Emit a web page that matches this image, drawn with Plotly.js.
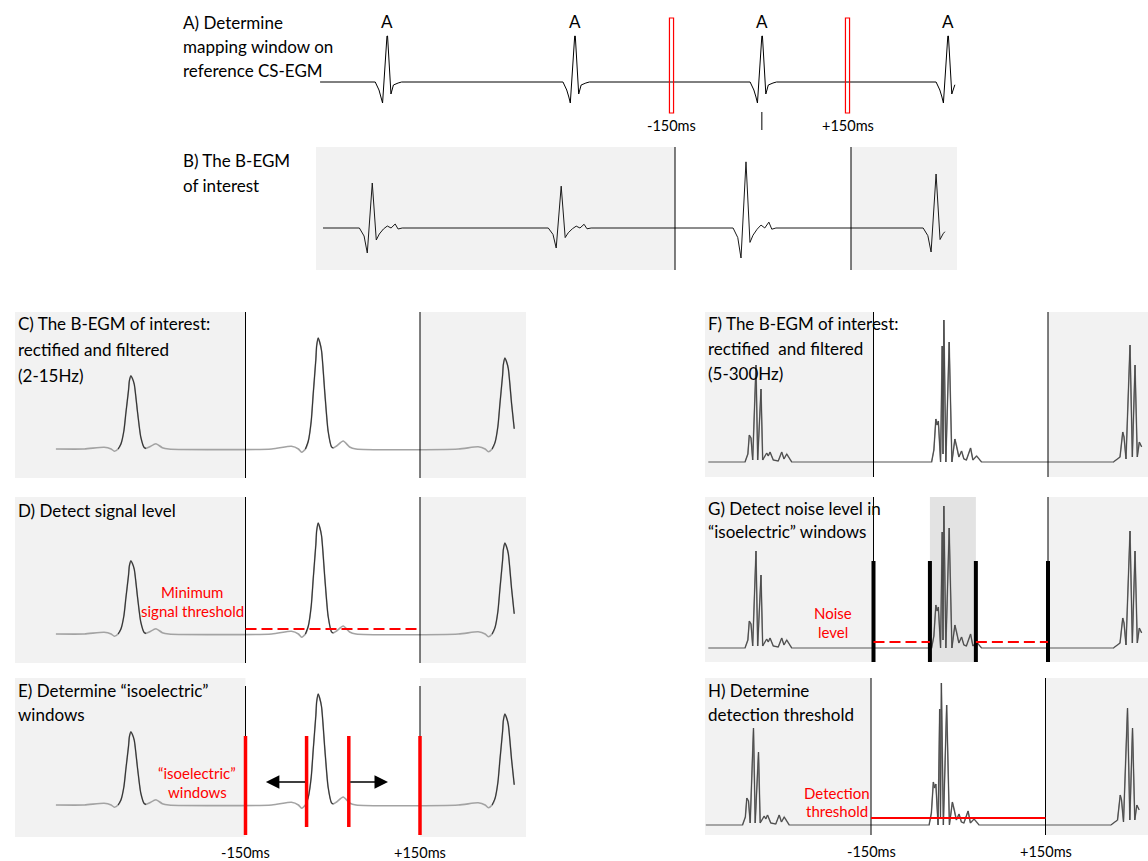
<!DOCTYPE html>
<html><head><meta charset="utf-8">
<script src="https://cdn.plot.ly/plotly-3.0.1.min.js"></script>
<style>html,body{margin:0;padding:0;background:#fff}#chart{width:1148px;height:861px}</style>
</head><body><div id="chart"></div>
<script>
// ================= DATA (time in ms relative to mapping-window centre, amplitude in a.u.) =================
const windowMs = [-150, 150];
const windowLabels = ['-150ms', '+150ms'];

// A) reference CS-EGM
const beatTimesA = [-635, -315, 4, 321];
const beatLabelsA = ['A', 'A', 'A', 'A'];
const spanA = [-749, 333];
const tmplA_t = [-20, -13.6, -10, -7.5, 0, 1, 6.8, 9, 11, 19, 25];
const tmplA_y = [0, -8, -15, -21, 46, 46, -12, -8, -3, -1, 0];

// B) bipolar EGM of interest
const beatTimesB = [-666, -344, -29, 295];
const beatPosB = [1.0, 0.93, 1.47, 1.2];
const beatNegB = [1.0, 0.8, 1.2, 0.96];
const spanB = [-750, 310];
const tmplB_t = [-22, -14, -8.5, 0, 6.8, 12, 19, 25.6, 32, 39, 44, 51];
const tmplB_y = [0, -8, -25, 45, -12, -6, -1, 2, 0, 4, -1, 0];

// C/D/E) rectified and filtered 2-15Hz
const beatTimesC = [-347, -25, 296];
const beatScaleC = [0.66, 1.0, 0.82];
const spanC = [-476, 312];
const tmplC_t = [-80, -46, -34, -28.5, -22, -17, -12, -8.6, -4, -2.7, 0, 2.5, 5.8, 11.5, 17, 23, 26, 31.5, 43, 54, 65];
const tmplC_y = [0, 2.7, 0, -3.3, 0, 8, 28, 55, 90, 103, 111, 107, 98, 55, 18, 2, 1, 3, 8, 2, 0];

// F/G/H) rectified and filtered 5-300Hz (one shape per beat)
const beatTimesF = [-352, -29, 291];
const spanF = [-434, 311];
const tmplF1_t = [-18.9, -14, -11.5, -8.6, -5.7, 0, 2.9, 8.6, 11.5, 18.4, 21.1, 24.1, 29.7, 38.3, 44.2, 48.1, 52.8, 61.4];
const tmplF1_y = [0, 8, 27, 24, 2, 97, 2, 73, 2, 9, 6, 10, 2, 1, 10, 3, 8, 0];
const tmplF2_t = [-21.1, -17.2, -13.8, -11.7, -9.5, -5.7, -2.9, -1.5, 0, 3.4, 9.1, 13.8, 18.9, 22.3, 25.8, 30.4, 34.4, 38.7, 45.9, 49.9, 56.2, 64.8];
const tmplF2_y = [0, 12, 43, 37, 41, 0, 116, 8, 142, 0, 120, 0, 23, 15, 5, 11, 3, 2, 14, 2, 6, 0];
const tmplF3_t = [-28.7, -17.2, -12.5, -10.3, -6.9, 0, 4.0, 8.6, 12.5, 16.0, 20.1];
const tmplF3_y = [0, 5, 30, 25, 3, 117, 5, 97, 5, 20, 15];

// markers
const isoInnerE = [-45, 27.6];
const isoInnerG = [-53, 26];
const minSignalThreshold = 5;
const noiseLevel = 6;
const detectionThreshold = 7;

// ================= BUILD =================
const W = 1148, H = 861;

function buildSignal(span, times, tList, yList, pos, neg) {
  const xs = [span[0]], ys = [0]; let done = false;
  for (let i = 0; i < times.length && !done; i++) {
    const tt = tList[i], ty = yList[i];
    for (let k = 0; k < tt.length; k++) {
      const t = times[i] + tt[k];
      const v = ty[k] * (ty[k] >= 0 ? pos[i] : neg[i]);
      if (t <= span[0]) continue;
      if (t >= span[1]) {
        const px = xs[xs.length - 1], py = ys[ys.length - 1];
        const f = (span[1] - px) / (t - px);
        xs.push(span[1]); ys.push(py + (v - py) * f); done = true; break;
      }
      xs.push(t); ys.push(v);
    }
  }
  if (!done) { xs.push(span[1]); ys.push(0); }
  return {x: xs, y: ys};
}
function beatSegments(sig, times, w0, w1) {
  const xs = [], ys = [];
  times.forEach(tb => {
    for (let k = 0; k < sig.x.length; k++) {
      if (sig.x[k] >= tb + w0 && sig.x[k] <= tb + w1) { xs.push(sig.x[k]); ys.push(sig.y[k]); }
    }
    xs.push(null); ys.push(null);
  });
  return {x: xs, y: ys};
}
const rep = (v, n) => Array(n).fill(v);

const sigA = buildSignal(spanA, beatTimesA, rep(tmplA_t, 4), rep(tmplA_y, 4), rep(1, 4), rep(1, 4));
const sigB = buildSignal(spanB, beatTimesB, rep(tmplB_t, 4), rep(tmplB_y, 4), beatPosB, beatNegB);
const sigC = buildSignal(spanC, beatTimesC, rep(tmplC_t, 3), rep(tmplC_y, 3), beatScaleC, beatScaleC);
const sigF = buildSignal(spanF, beatTimesF, [tmplF1_t, tmplF2_t, tmplF3_t], [tmplF1_y, tmplF2_y, tmplF3_y], rep(1, 3), rep(1, 3));
const segC = beatSegments(sigC, beatTimesC, -22, 26);
const segF = beatSegments(sigF, beatTimesF, -30, 66);

const layout = {
  width: W, height: H, margin: {l: 0, r: 0, t: 0, b: 0},
  paper_bgcolor: '#ffffff', plot_bgcolor: 'rgba(0,0,0,0)', showlegend: false,
  shapes: [], annotations: [],
  font: {family: 'Lato, "Open Sans", sans-serif', color: '#000'}
};

// panel geometry (pixels): box = [x0,x1,y0,y1], win = pixel x of -150/+150, base = pixel y of baseline
const panels = {
  A: {n: '',  box: [300, 970, 0, 140],   win: [671.5, 847.5], base: 82,  bg: false},
  B: {n: '2', box: [316, 957, 147, 270], win: [675, 851],     base: 228, bg: true},
  C: {n: '3', box: [15, 526, 312, 478],  win: [245.5, 420],   base: 449, bg: true},
  D: {n: '4', box: [15, 526, 497, 663],  win: [245.5, 420],   base: 634, bg: true},
  E: {n: '5', box: [15, 526, 678, 837],  win: [245.5, 420],   base: 805, bg: true},
  F: {n: '6', box: [705, 1148, 312, 477], win: [873.5, 1048], base: 462, bg: true},
  G: {n: '7', box: [705, 1148, 497, 662], win: [873.5, 1048], base: 648, bg: true},
  H: {n: '8', box: [705, 1148, 678, 835], win: [871, 1045.5], base: 825, bg: true}
};
Object.values(panels).forEach(p => {
  const s = (p.win[1] - p.win[0]) / (windowMs[1] - windowMs[0]);
  const c = (p.win[0] + p.win[1]) / 2;
  const [x0, x1, y0, y1] = p.box;
  layout['xaxis' + p.n] = {domain: [x0 / W, x1 / W], range: [(x0 - c) / s, (x1 - c) / s], visible: false, fixedrange: true, anchor: 'y' + p.n};
  layout['yaxis' + p.n] = {domain: [1 - y1 / H, 1 - y0 / H], range: [p.base - y1, p.base - y0], visible: false, fixedrange: true, anchor: 'x' + p.n};
  p.xr = 'x' + p.n; p.yr = 'y' + p.n;
  if (p.bg) {
    layout.shapes.push({type: 'rect', xref: p.xr + ' domain', yref: p.yr + ' domain', x0: 0, x1: 1, y0: 0, y1: 1, fillcolor: '#f2f2f2', line: {width: 0}, layer: 'below'});
    layout.shapes.push({type: 'rect', xref: p.xr, yref: p.yr + ' domain', x0: windowMs[0], x1: windowMs[1], y0: 0, y1: 1, fillcolor: '#ffffff', line: {width: 0}, layer: 'below'});
  }
});

// window boundary lines (full height) for B,C,D,F,G,H
['B', 'C', 'D', 'F', 'G', 'H'].forEach(k => {
  const p = panels[k];
  windowMs.forEach(w => layout.shapes.push({type: 'line', xref: p.xr, yref: p.yr + ' domain', x0: w, x1: w, y0: 0, y1: 1, line: {color: '#000', width: 1}}));
});
// G: darker "signal" window
layout.shapes.push({type: 'rect', xref: 'x7', yref: 'y7 domain', x0: isoInnerG[0], x1: isoInnerG[1], y0: 0, y1: 1, fillcolor: '#e3e3e3', line: {width: 0}, layer: 'below'});
// E: thin lines + red isoelectric lines
windowMs.forEach(w => layout.shapes.push({type: 'line', xref: 'x5', yref: 'y5', x0: w, x1: w, y0: 119, y1: -30, line: {color: '#000', width: 1}}));
windowMs.forEach(w => layout.shapes.push({type: 'line', xref: 'x5', yref: 'y5', x0: w, x1: w, y0: 69, y1: -30, line: {color: '#ff0000', width: 3.5}}));
isoInnerE.forEach(w => layout.shapes.push({type: 'line', xref: 'x5', yref: 'y5', x0: w, x1: w, y0: 69, y1: -22, line: {color: '#ff0000', width: 3.5}}));
// G thick black lines
windowMs.concat(isoInnerG).forEach(w => layout.shapes.push({type: 'line', xref: 'x7', yref: 'y7', x0: w, x1: w, y0: -14, y1: 87, line: {color: '#000', width: 4}}));
// thresholds
layout.shapes.push({type: 'line', xref: 'x4', yref: 'y4', x0: windowMs[0], x1: windowMs[1], y0: minSignalThreshold, y1: minSignalThreshold, line: {color: '#ff0000', width: 2, dash: '11px,5px'}});
layout.shapes.push({type: 'line', xref: 'x7', yref: 'y7', x0: windowMs[0], x1: isoInnerG[0], y0: noiseLevel, y1: noiseLevel, line: {color: '#ff0000', width: 2, dash: '11px,5px'}});
layout.shapes.push({type: 'line', xref: 'x7', yref: 'y7', x0: isoInnerG[1], x1: windowMs[1], y0: noiseLevel, y1: noiseLevel, line: {color: '#ff0000', width: 2, dash: '11px,5px'}});
layout.shapes.push({type: 'line', xref: 'x8', yref: 'y8', x0: windowMs[0], x1: windowMs[1], y0: detectionThreshold, y1: detectionThreshold, line: {color: '#ff0000', width: 2}});
// A: red mapping-window boxes and reference tick
windowMs.forEach(w => layout.shapes.push({type: 'rect', xref: 'x', yref: 'y', x0: w - 3.5, x1: w + 3.5, y0: -31, y1: 64, line: {color: '#ff0000', width: 1.2}, fillcolor: 'rgba(0,0,0,0)'}));
layout.shapes.push({type: 'line', xref: 'x', yref: 'y', x0: beatTimesA[2], x1: beatTimesA[2], y0: -30, y1: -48, line: {color: '#000', width: 1}});

// E arrows
layout.annotations.push({xref: 'x5', yref: 'y5', axref: 'x5', ayref: 'y5', x: -115, y: 23, ax: isoInnerE[0], ay: 23, text: '', showarrow: true, arrowhead: 2, arrowsize: 1.8, arrowwidth: 1.5, arrowcolor: '#000', standoff: 0, startstandoff: 0});
layout.annotations.push({xref: 'x5', yref: 'y5', axref: 'x5', ayref: 'y5', x: 95, y: 23, ax: isoInnerE[1], ay: 23, text: '', showarrow: true, arrowhead: 2, arrowsize: 1.8, arrowwidth: 1.5, arrowcolor: '#000', standoff: 0, startstandoff: 0});

// text helpers
const FONT = 'Lato, "Open Sans", sans-serif';
const TITLE_SIZE = 17, NOTE_SIZE = 15, MS_SIZE = 14.5;
function txt(xpx, ypx, text, opt) {
  opt = opt || {};
  layout.annotations.push({xref: 'paper', yref: 'paper', x: xpx / W, y: 1 - ypx / H, text: text, showarrow: false,
    xanchor: opt.anchor || 'left', yanchor: 'middle', font: {family: FONT, size: opt.size || TITLE_SIZE, color: opt.color || '#000'}});
}
function axTxt(xr, xv, ypx, text) {
  layout.annotations.push({xref: xr, yref: 'paper', x: xv, y: 1 - ypx / H, text: text, showarrow: false, xanchor: 'center', yanchor: 'middle', font: {family: FONT, size: MS_SIZE, color: '#000'}});
}
// titles
txt(181, 22, 'A) Determine'); txt(181, 46, 'mapping window on'); txt(181, 70, 'reference CS-EGM');
txt(181, 160, 'B) The B-EGM'); txt(181, 185, 'of interest');
txt(16, 323, 'C) The B-EGM of interest:'); txt(16, 349, 'rectified and filtered'); txt(16, 375, '(2-15Hz)');
txt(16, 510, 'D) Detect signal level');
txt(16, 690, 'E) Determine \u201cisoelectric\u201d'); txt(16, 714, 'windows');
txt(706, 323, 'F) The B-EGM of interest:'); txt(706, 348, 'rectified \u00a0and filtered'); txt(706, 373, '(5-300Hz)');
txt(706, 508, 'G) Detect noise level in'); txt(706, 531, '\u201cisoelectric\u201d windows');
txt(706, 690, 'H) Determine'); txt(706, 714, 'detection threshold');
// red notes
const RED = '#ff0000';
const note = (x, y, t) => txt(x, y, t, {anchor: 'center', size: NOTE_SIZE, color: RED});
note(192, 592, 'Minimum'); note(192, 611, 'signal threshold');
note(197, 773, '\u201cisoelectric\u201d'); note(197, 792, 'windows');
note(833, 613, 'Noise'); note(833, 632, 'level');
note(837, 793, 'Detection'); note(837, 811, 'threshold');
// beat labels (A)
beatTimesA.forEach((t, i) => layout.annotations.push({xref: 'x', yref: 'y', x: t, y: 61, text: beatLabelsA[i], showarrow: false, xanchor: 'center', yanchor: 'middle', font: {family: FONT, size: TITLE_SIZE, color: '#000'}}));
// window labels
windowMs.forEach((w, i) => { axTxt('x', w, 125, windowLabels[i]); axTxt('x5', w, 852, windowLabels[i]); axTxt('x8', w, 851, windowLabels[i]); });

// ================= TRACES =================
const traces = [];
traces.push({x: sigA.x, y: sigA.y, xaxis: 'x', yaxis: 'y', mode: 'lines', line: {color: '#000', width: 1}, hoverinfo: 'skip'});
traces.push({x: sigB.x, y: sigB.y, xaxis: 'x2', yaxis: 'y2', mode: 'lines', line: {color: '#1a1a1a', width: 1}, hoverinfo: 'skip'});
['3', '4', '5'].forEach(n => {
  traces.push({x: sigC.x, y: sigC.y, xaxis: 'x' + n, yaxis: 'y' + n, mode: 'lines', line: {color: '#a3a3a3', width: 1.6, shape: 'spline', smoothing: 0.6}, hoverinfo: 'skip'});
  traces.push({x: segC.x, y: segC.y, xaxis: 'x' + n, yaxis: 'y' + n, mode: 'lines', connectgaps: false, line: {color: '#333', width: 1.1, shape: 'spline', smoothing: 0.6}, hoverinfo: 'skip'});
});
['6', '7', '8'].forEach(n => {
  traces.push({x: sigF.x, y: sigF.y, xaxis: 'x' + n, yaxis: 'y' + n, mode: 'lines', line: {color: '#8c8c8c', width: 1.5}, hoverinfo: 'skip'});
  traces.push({x: segF.x, y: segF.y, xaxis: 'x' + n, yaxis: 'y' + n, mode: 'lines', connectgaps: false, line: {color: '#4a4a4a', width: 1}, hoverinfo: 'skip'});
});

Plotly.newPlot('chart', traces, layout, {staticPlot: true, displayModeBar: false});
</script></body></html>
